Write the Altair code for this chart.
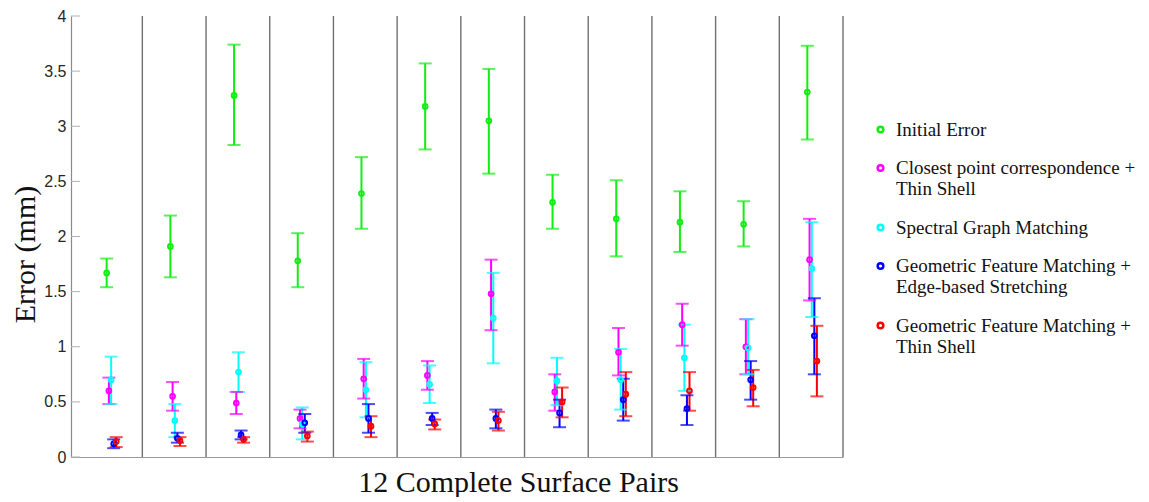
import altair as alt
import pandas as pd

# ---- data ----
methods = [
    "Initial Error",
    "Closest point correspondence +|Thin Shell",
    "Spectral Graph Matching",
    "Geometric Feature Matching +|Edge-based Stretching",
    "Geometric Feature Matching +|Thin Shell",
]
colors = ["#11ee11", "#ff00ff", "#00ffff", "#0000ff", "#ff0000"]
pairs = list(range(1, 13))

initial_mean = [1.67, 1.91, 3.28, 1.78, 2.39, 3.18, 3.05, 2.31, 2.16, 2.13, 2.11, 3.31]
initial_lo = [1.54, 1.63, 2.83, 1.54, 2.07, 2.79, 2.57, 2.07, 1.82, 1.86, 1.91, 2.88]
initial_hi = [1.80, 2.19, 3.74, 2.03, 2.72, 3.57, 3.52, 2.56, 2.51, 2.41, 2.32, 3.73]

closest_mean = [0.60, 0.55, 0.49, 0.35, 0.71, 0.74, 1.48, 0.59, 0.95, 1.20, 1.00, 1.79]
closest_lo = [0.48, 0.42, 0.39, 0.26, 0.53, 0.61, 1.15, 0.42, 0.74, 1.01, 0.75, 1.42]
closest_hi = [0.72, 0.68, 0.59, 0.43, 0.89, 0.87, 1.79, 0.75, 1.17, 1.39, 1.25, 2.16]

spectral_mean = [0.70, 0.33, 0.77, 0.30, 0.61, 0.66, 1.26, 0.69, 0.70, 0.90, 0.99, 1.71]
spectral_lo = [0.48, 0.18, 0.59, 0.16, 0.36, 0.49, 0.85, 0.47, 0.43, 0.60, 0.75, 1.27]
spectral_hi = [0.91, 0.48, 0.95, 0.45, 0.86, 0.83, 1.67, 0.90, 0.98, 1.20, 1.25, 2.13]

edge_mean = [0.12, 0.17, 0.20, 0.31, 0.35, 0.35, 0.35, 0.40, 0.52, 0.44, 0.70, 1.10]
edge_lo = [0.08, 0.13, 0.16, 0.22, 0.22, 0.29, 0.26, 0.27, 0.33, 0.29, 0.52, 0.75]
edge_hi = [0.16, 0.22, 0.24, 0.39, 0.48, 0.40, 0.43, 0.52, 0.71, 0.56, 0.87, 1.44]

thin_mean = [0.14, 0.15, 0.16, 0.19, 0.28, 0.30, 0.33, 0.50, 0.57, 0.60, 0.63, 0.87]
thin_lo = [0.09, 0.10, 0.13, 0.14, 0.18, 0.25, 0.24, 0.36, 0.37, 0.42, 0.46, 0.55]
thin_hi = [0.18, 0.18, 0.18, 0.23, 0.37, 0.34, 0.41, 0.63, 0.77, 0.77, 0.79, 1.19]

y_ticks = [0, 0.5, 1, 1.5, 2, 2.5, 3, 3.5, 4]

# ---- build table ----
series = [
    (initial_mean, initial_lo, initial_hi),
    (closest_mean, closest_lo, closest_hi),
    (spectral_mean, spectral_lo, spectral_hi),
    (edge_mean, edge_lo, edge_hi),
    (thin_mean, thin_lo, thin_hi),
]
offsets = [0.44, 0.475, 0.51, 0.55, 0.59]  # placement of each method inside a pair slot
rows = []
for k, (m, lo, hi) in enumerate(series):
    for i, p in enumerate(pairs):
        rows.append({"method": methods[k], "mi": k, "pair": p,
                     "pos": (p - 1) + offsets[k],
                     "mean": m[i], "lo": lo[i], "hi": hi[i]})
df = pd.DataFrame(rows)
div_df = pd.DataFrame({"pair": pairs})
tick_df = pd.DataFrame({"v": y_ticks})

xscale = alt.Scale(domain=[-0.12, 12], nice=False, zero=False)
yscale = alt.Scale(domain=[0, 4], nice=False)
cscale = alt.Scale(domain=methods, range=colors)

x_axis = alt.Axis(labels=False, ticks=False, grid=False, domainColor="#9a9a9a",
                  domainWidth=1.2, title="12 Complete Surface Pairs",
                  titleFont="Liberation Serif", titleFontSize=30, titleFontWeight="normal",
                  titleColor="#111", titleX=447, titleY=34, titleAlign="center",
                  titleBaseline="alphabetic")
y_axis = alt.Axis(values=y_ticks, format="~g", grid=False, ticks=False, tickSize=0,
                  labelPadding=5, labelFont="Liberation Sans", labelFontSize=16,
                  labelColor="#262626", domainColor="#8a8a8a", domainWidth=1.2,
                  title="Error (mm)", titleFont="Liberation Serif", titleFontSize=30,
                  titleFontWeight="normal", titleColor="#111", titleAngle=270,
                  titleX=-37, titleY=238, titleAlign="center", titleBaseline="alphabetic")

dividers = alt.Chart(div_df).mark_rule(color="#707070", strokeWidth=1.4).encode(
    x=alt.X("pair:Q", scale=xscale, axis=x_axis),
    y=alt.datum(0, scale=yscale),
    y2=alt.datum(4),
)

inner_ticks = alt.Chart(tick_df).mark_rule(color="#b0b0b0", strokeWidth=1).encode(
    y=alt.Y("v:Q", scale=yscale, axis=y_axis),
    x=alt.value(0),
    x2=alt.value(9),
)

color_nolegend = alt.Color("method:N", scale=cscale, legend=None)

bars = alt.Chart(df).mark_rule(strokeWidth=2).encode(
    x=alt.X("pos:Q", scale=xscale),
    y=alt.Y("lo:Q", scale=yscale),
    y2="hi:Q",
    color=color_nolegend,
)
cap_lo = alt.Chart(df).mark_tick(orient="horizontal", size=13, thickness=2).encode(
    x=alt.X("pos:Q", scale=xscale),
    y=alt.Y("lo:Q", scale=yscale),
    color=color_nolegend,
)
cap_hi = alt.Chart(df).mark_tick(orient="horizontal", size=13, thickness=2).encode(
    x=alt.X("pos:Q", scale=xscale),
    y=alt.Y("hi:Q", scale=yscale),
    color=color_nolegend,
)
points = alt.Chart(df).mark_point(filled=False, size=22, strokeWidth=2, opacity=1).encode(
    x=alt.X("pos:Q", scale=xscale),
    y=alt.Y("mean:Q", scale=yscale),
    color=alt.Color("method:N", scale=cscale, legend=alt.Legend(
        title=None, orient="none", legendX=800, legendY=104,
        symbolType="circle", symbolSize=32, symbolStrokeWidth=2.5,
        symbolFillColor="white", labelFont="Liberation Serif", labelFontSize=19,
        labelColor="#111", labelOffset=6, rowPadding=18.5, labelLimit=400,
        labelExpr="split(datum.label, '|')")),
)

chart = alt.layer(dividers, inner_ticks, bars, cap_lo, cap_hi, points).resolve_legend(
    color="independent"
).properties(
    width=772, height=441,
    autosize=alt.AutoSizeParams(type="none"),
    padding={"left": 63, "top": 8, "right": 298, "bottom": 40},
    background="white",
).configure_view(stroke=None)

chart.save("out.html", embed_options={"renderer": "svg", "actions": False})
